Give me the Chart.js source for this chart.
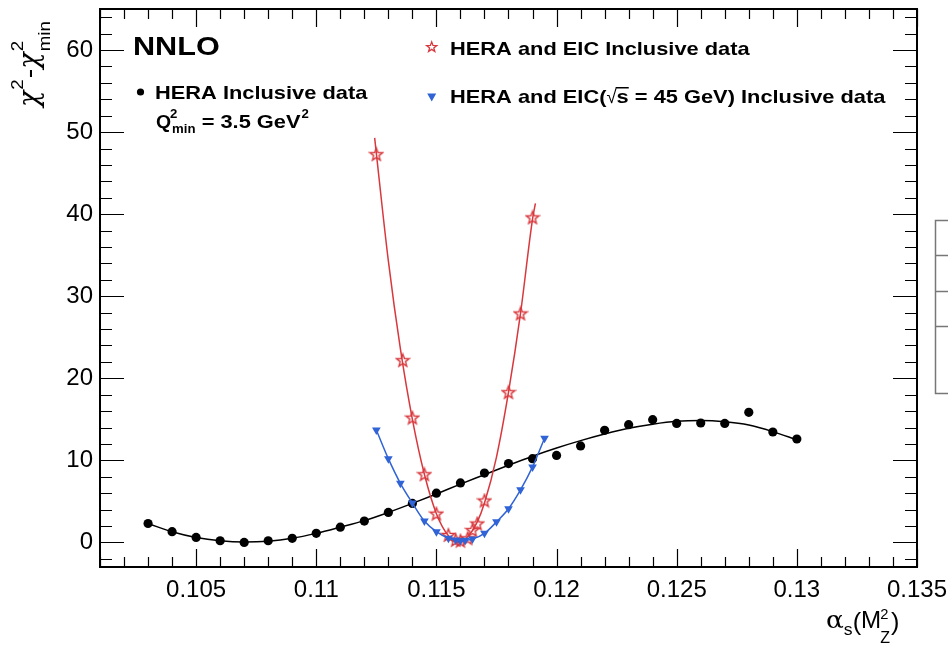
<!DOCTYPE html>
<html>
<head>
<meta charset="utf-8">
<script src="https://cdn.jsdelivr.net/npm/chart.js@4.4.0/dist/chart.umd.min.js"></script>
<style>
  html, body { margin: 0; padding: 0; background: #fff; }
</style>
</head>
<body>
<canvas id="chi2Chart" width="948" height="646"></canvas>
<script>
// HERA inclusive data, Q2min = 3.5 GeV2
const heraAlpha = [0.103, 0.104, 0.105, 0.106, 0.107, 0.108, 0.109, 0.110, 0.111, 0.112, 0.113, 0.114, 0.115, 0.116,
                   0.117, 0.118, 0.119, 0.120, 0.121, 0.122, 0.123, 0.124, 0.125, 0.126, 0.127, 0.128, 0.129, 0.130];
const heraChi2 = [2.3, 1.3, 0.6, 0.2, 0.0, 0.2, 0.5, 1.1, 1.85, 2.6, 3.65, 4.75, 6.0, 7.25,
                  8.45, 9.6, 10.2, 10.6, 11.75, 13.65, 14.35, 14.95, 14.5, 14.55, 14.5, 15.85, 13.45, 12.6];
const heraFitAlpha = [0.103, 0.104, 0.105, 0.106, 0.107, 0.108, 0.109, 0.110, 0.111, 0.112, 0.113, 0.114, 0.115, 0.116,
                      0.117, 0.118, 0.119, 0.120, 0.121, 0.122, 0.123, 0.124, 0.125, 0.126, 0.127, 0.128, 0.129, 0.130];
const heraFitChi2 = [2.3, 1.3, 0.6, 0.2, 0.05, 0.15, 0.5, 1.1, 1.85, 2.65, 3.65, 4.75, 5.9, 7.1,
                     8.25, 9.4, 10.5, 11.5, 12.4, 13.2, 13.9, 14.4, 14.75, 14.85, 14.7, 14.3, 13.5, 12.5];

// HERA and EIC inclusive data
const eicAlpha = [0.1125, 0.1136, 0.1140, 0.1145, 0.1150, 0.1155, 0.1158, 0.1160, 0.1163, 0.1165, 0.1167, 0.1170, 0.1180, 0.1185, 0.1190];
const eicChi2 = [47.3, 22.2, 15.2, 8.3, 3.5, 0.9, 0.3, 0.2, 0.5, 1.5, 2.3, 5.1, 18.3, 27.9, 39.6];
const eicFitAlpha = [0.11243, 0.1130, 0.1135, 0.1140, 0.1145, 0.1150, 0.1155, 0.1159, 0.1163, 0.1167, 0.1170, 0.1175, 0.1180, 0.1185, 0.1190, 0.11912];
const eicFitChi2 = [49.3, 34.3, 23.6, 15.0, 8.3, 3.5, 0.8, 0.0, 0.7, 2.5, 4.8, 10.4, 18.3, 27.9, 39.4, 41.3];

// HERA and EIC (sqrt(s) = 45 GeV) inclusive data
const eic45Alpha = [0.1125, 0.1130, 0.1135, 0.1140, 0.1145, 0.1150, 0.1155, 0.1158, 0.1160, 0.1162, 0.1165, 0.1170, 0.1175, 0.1180, 0.1185, 0.1190, 0.1195];
const eic45Chi2 = [13.7, 10.2, 7.2, 4.8, 2.6, 1.3, 0.5, 0.3, 0.2, 0.25, 0.4, 1.1, 2.5, 4.1, 6.4, 9.2, 12.7];

const xTickValues = [0.105, 0.11, 0.115, 0.12, 0.125, 0.13, 0.135];
const yTickValues = [0, 10, 20, 30, 40, 50, 60];

const FONT = '"Liberation Sans", Arial, Helvetica, sans-serif';
const GREEK = '"DejaVu Serif", "Liberation Serif", serif';
const RED = '#d8383d';
const BLUE = '#2f63d6';

function toXY(xs, ys) {
    return xs.map(function (x, i) { return {x: x, y: ys[i]}; });
}

function starPath(ctx, cx, cy, rOut, rIn) {
    ctx.beginPath();
    for (let i = 0; i < 10; i++) {
        const r = i % 2 === 0 ? rOut : rIn;
        const a = -Math.PI / 2 + i * Math.PI / 5;
        const px = cx + r * Math.cos(a), py = cy + r * Math.sin(a);
        if (i === 0) ctx.moveTo(px, py); else ctx.lineTo(px, py);
    }
    ctx.closePath();
}

// open star marker as an image for pointStyle
const starImg = document.createElement('canvas');
starImg.width = 16;
starImg.height = 16;
(function () {
    const c = starImg.getContext('2d');
    c.strokeStyle = RED;
    c.lineWidth = 1.4;
    starPath(c, 8, 8.5, 6.6, 2.8);
    c.stroke();
})();

function txt(ctx, s, x, y, size, weight, sx, family) {
    ctx.save();
    ctx.translate(x, y);
    ctx.scale(sx, 1);
    ctx.font = weight + ' ' + size + 'px ' + (family || FONT);
    ctx.textBaseline = 'alphabetic';
    ctx.textAlign = 'left';
    ctx.fillText(s, 0, 0);
    const w = ctx.measureText(s).width * sx;
    ctx.restore();
    return w;
}

const rootFrame = {
    id: 'rootFrame',
    afterDatasetsDraw: function (chart) {
        const ctx = chart.ctx;
        const a = chart.chartArea;
        const xs = chart.scales.x, ys = chart.scales.y;
        ctx.save();
        ctx.strokeStyle = '#000';
        ctx.lineWidth = 1.2;
        ctx.beginPath();
        for (let i = 101; i <= 135; i++) {
            const px = Math.round(xs.getPixelForValue(i / 1000)) + 0.5;
            const len = i % 5 === 0 ? 18 : 10;
            ctx.moveTo(px, a.bottom); ctx.lineTo(px, a.bottom - len);
            ctx.moveTo(px, a.top); ctx.lineTo(px, a.top + len);
        }
        for (let v = -2; v <= 64; v += 2) {
            const py = Math.round(ys.getPixelForValue(v)) + 0.5;
            const len = v % 10 === 0 ? 24 : 12;
            ctx.moveTo(a.left, py); ctx.lineTo(a.left + len, py);
            ctx.moveTo(a.right, py); ctx.lineTo(a.right - len, py);
        }
        ctx.stroke();
        ctx.lineWidth = 2;
        ctx.strokeRect(a.left, a.top, a.right - a.left, a.bottom - a.top);
        ctx.restore();
    },
    afterDraw: function (chart) {
        const ctx = chart.ctx;
        ctx.save();
        ctx.fillStyle = '#000';

        // top-left label and HERA legend entry
        txt(ctx, 'NNLO', 133, 55, 25.5, 'bold', 1.2);
        ctx.beginPath();
        ctx.arc(140.5, 92, 3.6, 0, 2 * Math.PI);
        ctx.fill();
        txt(ctx, 'HERA Inclusive data', 155, 98.7, 18.5, 'bold', 1.18);
        let x = 156;
        x += txt(ctx, 'Q', x, 127.5, 18.5, 'bold', 1.05);
        txt(ctx, '2', x - 1, 118, 12, 'bold', 1.1);
        x += txt(ctx, 'min', x + 1, 132.5, 12, 'bold', 1.1) + 1;
        x += txt(ctx, ' = 3.5 GeV', x, 127.5, 18.5, 'bold', 1.18);
        txt(ctx, '2', x + 1, 118, 12, 'bold', 1.1);

        // EIC legend entries
        ctx.strokeStyle = RED;
        ctx.lineWidth = 1.3;
        starPath(ctx, 431.7, 47.2, 5.3, 2.2);
        ctx.stroke();
        txt(ctx, 'HERA and EIC Inclusive data', 450, 55, 18.5, 'bold', 1.18);

        ctx.fillStyle = BLUE;
        ctx.beginPath();
        ctx.moveTo(427.2, 93.5); ctx.lineTo(436.2, 93.5); ctx.lineTo(431.7, 101.5);
        ctx.closePath();
        ctx.fill();
        ctx.fillStyle = '#000';
        x = 450;
        x += txt(ctx, 'HERA and EIC(', x, 103.3, 18.5, 'bold', 1.18);
        x += txt(ctx, '\u221A', x, 103.3, 18.5, 'normal', 1.0);
        const sw = txt(ctx, 's', x, 103.3, 18.5, 'bold', 1.18);
        ctx.fillRect(x - 1, 87, sw + 1, 1.5);
        x += sw;
        txt(ctx, ' = 45 GeV) Inclusive data', x, 103.3, 18.5, 'bold', 1.18);

        // y axis title: chi^2 - chi^2_min
        ctx.save();
        ctx.translate(38, 107);
        ctx.rotate(-Math.PI / 2);
        let t = 0;
        t += txt(ctx, '\u03C7', t, 0, 27, 'italic', 1.0, GREEK);
        t += txt(ctx, '2', t + 1, -15, 17, 'normal', 1.1) + 1;
        t += txt(ctx, '-', t + 1, 0, 26, 'normal', 1.1) + 1;
        t += txt(ctx, '\u03C7', t, 0, 27, 'italic', 1.0, GREEK);
        txt(ctx, '2', t + 1, -15, 17, 'normal', 1.1);
        txt(ctx, 'min', t + 1, 12, 17, 'normal', 1.1);
        ctx.restore();

        // x axis title: alpha_s(M^2_Z)
        x = 826;
        x += txt(ctx, '\u03B1', x, 628, 24, 'normal', 1.1, GREEK);
        x += txt(ctx, 's', x, 635, 16, 'normal', 1.1);
        x += txt(ctx, '(', x, 630, 23, 'normal', 1.1);
        x += txt(ctx, 'M', x, 628, 23, 'normal', 1.05);
        txt(ctx, '2', x - 1, 619, 14, 'normal', 1.05);
        x += txt(ctx, 'Z', x - 1, 643, 16, 'normal', 1.0);
        txt(ctx, ')', x, 630, 23, 'normal', 1.1);

        // cut-off box at the right edge of the picture
        ctx.strokeStyle = '#777';
        ctx.lineWidth = 1.5;
        ctx.beginPath();
        ctx.moveTo(950, 220.5); ctx.lineTo(935.5, 220.5); ctx.lineTo(935.5, 393.5); ctx.lineTo(950, 393.5);
        ctx.moveTo(935.5, 255.5); ctx.lineTo(950, 255.5);
        ctx.moveTo(935.5, 291.5); ctx.lineTo(950, 291.5);
        ctx.moveTo(935.5, 326.5); ctx.lineTo(950, 326.5);
        ctx.stroke();
        ctx.restore();
    }
};

const tickFont = {family: FONT, size: 24};

const chi2Chart = new Chart(document.getElementById('chi2Chart'), {
    type: 'scatter',
    data: {
        datasets: [
            {
                label: 'HERA fit',
                data: toXY(heraFitAlpha, heraFitChi2),
                showLine: true,
                borderColor: '#000',
                borderWidth: 1.5,
                pointRadius: 0,
                cubicInterpolationMode: 'monotone',
                order: 6
            },
            {
                label: 'HERA and EIC fit',
                data: toXY(eicFitAlpha, eicFitChi2),
                showLine: true,
                borderColor: RED,
                borderWidth: 1.5,
                pointRadius: 0,
                cubicInterpolationMode: 'monotone',
                order: 5
            },
            {
                label: 'HERA Inclusive data',
                data: toXY(heraAlpha, heraChi2),
                pointStyle: 'circle',
                pointRadius: 4.6,
                backgroundColor: '#000',
                borderColor: '#000',
                borderWidth: 0,
                order: 4
            },
            {
                label: 'HERA and EIC Inclusive data',
                data: toXY(eicAlpha, eicChi2),
                pointStyle: starImg,
                pointRadius: 8,
                order: 3
            },
            {
                label: 'HERA and EIC(sqrt(s) = 45 GeV) Inclusive data',
                data: toXY(eic45Alpha, eic45Chi2),
                showLine: true,
                borderColor: BLUE,
                borderWidth: 1.5,
                cubicInterpolationMode: 'monotone',
                pointStyle: 'triangle',
                rotation: 180,
                pointRadius: 5,
                backgroundColor: BLUE,
                pointBorderWidth: 0,
                order: 2
            }
        ]
    },
    options: {
        responsive: false,
        animation: false,
        events: [],
        layout: {padding: {top: 7, right: 31, left: 0, bottom: 0}},
        plugins: {
            legend: {display: false},
            tooltip: {enabled: false}
        },
        scales: {
            x: {
                type: 'linear',
                min: 0.101,
                max: 0.135,
                grid: {display: false, drawTicks: false},
                border: {display: false},
                afterBuildTicks: function (scale) {
                    scale.ticks = xTickValues.map(function (v) { return {value: v}; });
                },
                afterFit: function (scale) {
                    scale.height = 79;
                    scale.paddingLeft = 0;
                    scale.paddingRight = 0;
                },
                ticks: {
                    font: tickFont,
                    color: '#000',
                    padding: 9,
                    maxRotation: 0,
                    autoSkip: false,
                    callback: function (v) { return String(+v.toFixed(3)); }
                }
            },
            y: {
                type: 'linear',
                min: -3,
                max: 65,
                grid: {display: false, drawTicks: false},
                border: {display: false},
                afterBuildTicks: function (scale) {
                    scale.ticks = yTickValues.map(function (v) { return {value: v}; });
                },
                afterFit: function (scale) {
                    scale.width = 100;
                    scale.paddingTop = 0;
                    scale.paddingBottom = 0;
                },
                ticks: {
                    font: tickFont,
                    color: '#000',
                    padding: 7,
                    autoSkip: false,
                    callback: function (v) { return String(v); }
                }
            }
        }
    },
    plugins: [rootFrame]
});
</script>
</body>
</html>
